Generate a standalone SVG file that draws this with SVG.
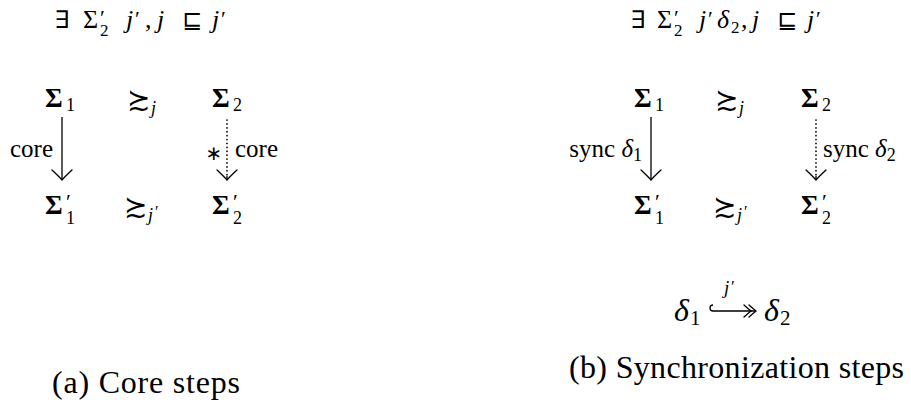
<svg xmlns="http://www.w3.org/2000/svg" width="911" height="407" viewBox="0 0 911 407">
<style>
.it{font-style:italic}
.ttl{font-size:26px}
.sig{font-weight:bold;font-size:27px}
.lbl{font-size:25px}
.cap{font-size:32px}
.big{font-size:32px}
.ln{stroke:#000;stroke-width:1.3;fill:none}
.dt{stroke:#000;stroke-width:1.7;fill:none;stroke-dasharray:0.1 3.8;stroke-linecap:round}
.hd{stroke:#000;stroke-width:1.3;fill:none;stroke-linecap:round}
</style>
<defs>
<marker id="ah" viewBox="-12 -12 24 24" refX="0" refY="0" markerWidth="24" markerHeight="24" markerUnits="userSpaceOnUse" orient="auto">
<path class="hd" d="M-10,-10 Q-3,-2.5 0,0 Q-3,2.5 -10,10"/>
</marker>
<marker id="ah2" viewBox="-16 -8 18 16" refX="0" refY="0" markerWidth="18" markerHeight="16" markerUnits="userSpaceOnUse" orient="auto">
<path class="hd" d="M-7,-6 Q-2,-1.5 0,0 Q-2,1.5 -7,6 M-12,-6 Q-7,-1.5 -5,0 Q-7,1.5 -12,6"/>
</marker>
</defs>

<g font-family="Liberation Serif, DejaVu Serif, serif" fill="#000">
<!-- Left panel title -->
<g id="title-a" class="ttl">
<text x="55" y="28" font-family="DejaVu Serif, serif" font-size="24" textLength="15" lengthAdjust="spacingAndGlyphs">∃</text>
<text x="83" y="28">Σ</text>
<text x="100" y="25" font-size="22">′</text>
<text x="100" y="36" font-size="17">2</text>
<text x="126" y="28" class="it">j</text>
<text x="135" y="26" font-size="22">′</text>
<text x="145" y="28">,</text>
<text x="157" y="28" class="it">j</text>
<text x="182" y="28" font-family="DejaVu Sans, sans-serif" font-size="24">⊑</text>
<text x="212" y="28" class="it">j</text>
<text x="221" y="26" font-size="22">′</text>
</g>

<!-- Left panel nodes -->
<g id="a-sigma1"><text x="45" y="107" class="sig">Σ</text><text x="66" y="111" font-size="18">1</text></g>
<g id="a-sim-j"><text x="127" y="109" font-family="DejaVu Sans, sans-serif" font-size="28">≿</text><text x="151" y="114" class="it" font-size="18">j</text></g>
<g id="a-sigma2"><text x="212" y="107" class="sig">Σ</text><text x="233" y="111" font-size="18">2</text></g>
<g id="a-sigma1p"><text x="45" y="214" class="sig">Σ</text><text x="66" y="209" font-size="22">′</text><text x="66" y="224" font-size="18">1</text></g>
<g id="a-sim-jp"><text x="124" y="216" font-family="DejaVu Sans, sans-serif" font-size="28">≿</text><text x="148" y="221" class="it" font-size="18">j</text><text x="155" y="217" font-size="16">′</text></g>
<g id="a-sigma2p"><text x="212" y="214" class="sig">Σ</text><text x="233" y="209" font-size="22">′</text><text x="233" y="224" font-size="18">2</text></g>

<!-- Right panel title -->
<g id="title-b" class="ttl">
<text x="631" y="28" font-family="DejaVu Serif, serif" font-size="24" textLength="15" lengthAdjust="spacingAndGlyphs">∃</text>
<text x="657" y="28">Σ</text>
<text x="674" y="25" font-size="22">′</text>
<text x="674" y="36" font-size="17">2</text>
<text x="699" y="28" class="it">j</text>
<text x="708" y="26" font-size="22">′</text>
<text x="717" y="28" class="it">δ</text>
<text x="731" y="33" font-size="17">2</text>
<text x="741" y="28">,</text>
<text x="752" y="28" class="it">j</text>
<text x="777" y="28" font-family="DejaVu Sans, sans-serif" font-size="24">⊑</text>
<text x="807" y="28" class="it">j</text>
<text x="816" y="26" font-size="22">′</text>
</g>

<!-- Right panel nodes -->
<g id="b-sigma1"><text x="634" y="107" class="sig">Σ</text><text x="655" y="111" font-size="18">1</text></g>
<g id="b-sim-j"><text x="715" y="109" font-family="DejaVu Sans, sans-serif" font-size="28">≿</text><text x="739" y="114" class="it" font-size="18">j</text></g>
<g id="b-sigma2"><text x="801" y="107" class="sig">Σ</text><text x="822" y="111" font-size="18">2</text></g>
<g id="b-sigma1p"><text x="634" y="214" class="sig">Σ</text><text x="655" y="209" font-size="22">′</text><text x="655" y="224" font-size="18">1</text></g>
<g id="b-sim-jp"><text x="713" y="216" font-family="DejaVu Sans, sans-serif" font-size="28">≿</text><text x="737" y="221" class="it" font-size="18">j</text><text x="744" y="217" font-size="16">′</text></g>
<g id="b-sigma2p"><text x="801" y="214" class="sig">Σ</text><text x="822" y="209" font-size="22">′</text><text x="822" y="224" font-size="18">2</text></g>

<!-- delta relation -->
<g id="b-delta1"><text x="674" y="321" class="it big">δ</text><text x="690" y="325" font-size="21">1</text></g>
<g id="b-delta2"><text x="764" y="321" class="it big">δ</text><text x="780" y="325" font-size="21">2</text></g>

<!-- Connector labels -->
<g id="labels" class="lbl">
<text x="53" y="157" text-anchor="end">core</text>
<text x="214" y="160" text-anchor="middle" font-family="DejaVu Sans, sans-serif" font-size="20">∗</text>
<text x="235" y="157">core</text>
<text x="642" y="157" text-anchor="end">sync <tspan class="it">δ</tspan><tspan font-size="18" dy="4">1</tspan></text>
<text x="823" y="157">sync <tspan class="it">δ</tspan><tspan font-size="18" dy="4">2</tspan></text>
<text x="724" y="294" class="it" font-size="19">j</text>
<text x="731" y="292" font-size="17">′</text>
</g>

<!-- Captions -->
<text x="52" y="393" class="cap" textLength="188" lengthAdjust="spacing">(a) Core steps</text>
<text x="569" y="378" class="cap" textLength="335" lengthAdjust="spacing">(b) Synchronization steps</text>
</g>

<!-- Connectors -->
<g id="connectors">
<path class="ln" d="M62,117 L62,180" marker-end="url(#ah)"/>
<path class="dt" d="M227,120 L227,176"/>
<path class="ln" d="M227,176 L227,180" stroke-width="0.01" marker-end="url(#ah)"/>
<path class="ln" d="M651,117 L651,180" marker-end="url(#ah)"/>
<path class="dt" d="M816,120 L816,176"/>
<path class="ln" d="M816,176 L816,180" stroke-width="0.01" marker-end="url(#ah)"/>
<path class="ln" d="M713,305 A3,3 0 0 0 713,311 L756,311" marker-end="url(#ah2)"/>
</g>
</svg>
